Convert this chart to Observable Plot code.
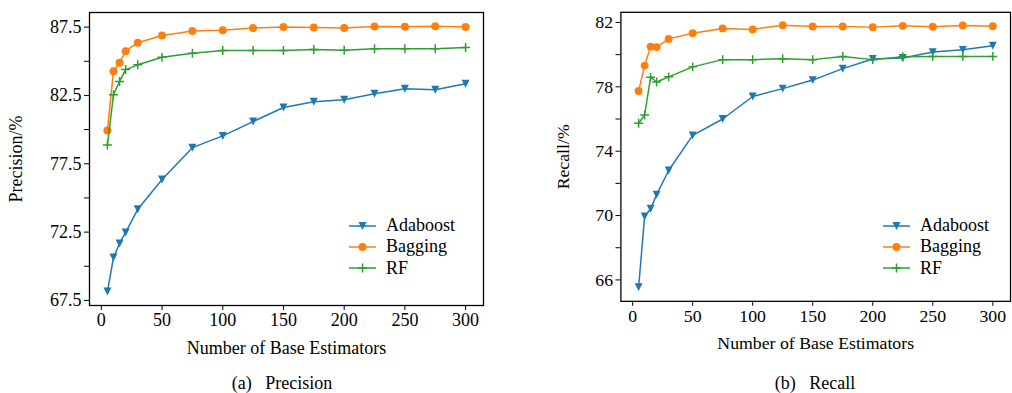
<!DOCTYPE html>
<html><head><meta charset="utf-8">
<script src="https://cdn.jsdelivr.net/npm/d3@7"></script>
<script src="https://cdn.jsdelivr.net/npm/@observablehq/plot@0.6"></script>
<style>
html,body{margin:0;padding:0;background:#fff;}
body{width:1012px;height:393px;overflow:hidden;font-family:"Liberation Serif","Times New Roman",serif;}
#wrap{position:relative;width:1012px;height:393px;overflow:hidden;}
.panel{position:absolute;top:0;}
.panel svg, .panel svg g, .panel svg text{font-family:"Liberation Serif","Times New Roman",serif !important;font-size:18px !important;font-variant:normal !important;}
.caption{position:absolute;font-size:18px;white-space:pre;line-height:20px;transform:translate(-50%,-50%);color:#000;}
.legend{position:absolute;font-size:18px;color:#000;}
.legend .row{display:flex;align-items:center;height:21.3px;}
</style>
</head><body>
<div id="wrap"></div>
<script>
// ---------- data ----------
const estimators = [5,10,15,20,30,50,75,100,125,150,175,200,225,250,275,300];
const seriesNames = ["Adaboost","Bagging","RF"];
const seriesColors = ["#1f77b4","#ff7f0e","#2ca02c"];

const precisionAdaboost = [68.15,70.64,71.67,72.48,74.17,76.35,78.68,79.54,80.59,81.62,82.04,82.19,82.62,82.99,82.92,83.36];
const precisionBagging  = [79.94,84.28,84.89,85.74,86.36,86.89,87.21,87.28,87.43,87.50,87.47,87.43,87.55,87.52,87.57,87.50];
const precisionRF       = [78.87,82.55,83.53,84.39,84.74,85.29,85.59,85.79,85.79,85.79,85.86,85.80,85.91,85.91,85.91,86.00];

const recallAdaboost = [65.55,69.94,70.42,71.30,72.80,74.98,76.00,77.40,77.89,78.42,79.13,79.73,79.79,80.16,80.30,80.55];
const recallBagging  = [77.74,79.32,80.50,80.47,80.98,81.33,81.63,81.57,81.83,81.75,81.75,81.71,81.79,81.73,81.81,81.77];
const recallRF       = [75.74,76.25,78.60,78.30,78.62,79.24,79.69,79.69,79.75,79.69,79.89,79.69,79.87,79.89,79.89,79.89];

const xTicks = [0,50,100,150,200,250,300];
const precisionTicks = [67.5,70,72.5,75,77.5,80,82.5,85,87.5];
const precisionTickLabels = ["67.5","","72.5","","77.5","","82.5","","87.5"];
const recallTicks = [66,68,70,72,74,76,78,80,82];
const recallTickLabels = ["66","","70","","74","","78","","82"];

// ---------- symbols ----------
const triangleDown = {draw(ctx, size){ const h = Math.sqrt(size/Math.PI); ctx.moveTo(0,h); ctx.lineTo(-h,-h); ctx.lineTo(h,-h); ctx.closePath(); }};
const plusSym = {draw(ctx, size){ const h = Math.sqrt(size/Math.PI); ctx.moveTo(-h,0); ctx.lineTo(h,0); ctx.moveTo(0,-h); ctx.lineTo(0,h); }};

const FONT = '"Liberation Serif","Times New Roman",serif';

function seriesMarks(vals){
  const marks = [];
  vals.forEach((v, i) => {
    const rows = estimators.map((n, j) => ({n, v: v[j]}));
    const c = seriesColors[i];
    marks.push(Plot.line(rows, {x:"n", y:"v", stroke:c, strokeWidth:1.5}));
    if (i === 0) marks.push(Plot.dot(rows, {x:"n", y:"v", symbol:triangleDown, r:4, fill:c, stroke:"none"}));
    if (i === 1) marks.push(Plot.dot(rows, {x:"n", y:"v", symbol:"circle", r:4, fill:c, stroke:"none"}));
    if (i === 2) marks.push(Plot.dot(rows, {x:"n", y:"v", symbol:plusSym, r:4.5, fill:"none", stroke:c, strokeWidth:1.5}));
  });
  return marks;
}

function panel({vals, yDomain, yTicks, yLabels, yLabel, width, marginLeft, marginRight, yLabelOffset}){
  return Plot.plot({
    width, height: 365,
    marginLeft, marginRight, marginTop: 12, marginBottom: 60,
    style: `font-family:${FONT};font-size:18px;color:#000;background:transparent;overflow:visible;`,
    x: {domain: [-9.75, 314.75]},
    y: {domain: yDomain},
    marks: [
      ...seriesMarks(vals),
      Plot.frame({stroke: "#000", strokeWidth: 1.3}),
      Plot.axisX({ticks: xTicks, tickSize: 5, tickPadding: 3, strokeWidth: 1, fontFamily: FONT, fontSize: 18, label: "Number of Base Estimators", labelAnchor: "center", labelArrow: "none", labelOffset: 48}),
      Plot.axisY({ticks: yTicks, tickSize: 5, tickPadding: 3, strokeWidth: 1, fontFamily: FONT, fontSize: 18, tickFormat: (d) => yLabels[yTicks.indexOf(d)], label: yLabel, labelAnchor: "center", labelArrow: "none", labelOffset: yLabelOffset})
    ]
  });
}

const wrap = document.getElementById("wrap");

const left = panel({vals:[precisionAdaboost, precisionBagging, precisionRF], yDomain:[67.13, 88.57], yTicks: precisionTicks, yLabels: precisionTickLabels, yLabel: "Precision/%", width: 506, marginLeft: 89, marginRight: 23, yLabelOffset: 80});
const lp = document.createElement("div"); lp.className = "panel"; lp.style.left = "0px"; lp.appendChild(left); wrap.appendChild(lp);

const right = panel({vals:[recallAdaboost, recallBagging, recallRF], yDomain:[64.67, 82.63], yTicks: recallTicks, yLabels: recallTickLabels, yLabel: "Recall/%", width: 513, marginLeft: 116, marginRight: 2, yLabelOffset: 65});
const rp = document.createElement("div"); rp.className = "panel"; rp.style.left = "506px"; rp.appendChild(right); wrap.appendChild(rp);

// captions
function caption(text, cx, cy){
  const d = document.createElement("div"); d.className = "caption"; d.textContent = text;
  d.style.left = cx + "px"; d.style.top = cy + "px"; wrap.appendChild(d);
}
caption("(a)   Precision", 282, 383);
caption("(b)   Recall", 815, 383);

// legends
function legend(x, y){
  const lg = document.createElement("div"); lg.className = "legend";
  lg.style.left = x + "px"; lg.style.top = y + "px";
  seriesNames.forEach((name, i) => {
    const row = document.createElement("div"); row.className = "row";
    const c = seriesColors[i];
    let marker = "";
    if (i === 0) marker = `<path d="M13.5,18 L9.5,10 L17.5,10 Z" fill="${c}"/>`;
    if (i === 1) marker = `<circle cx="13.5" cy="14" r="4" fill="${c}"/>`;
    if (i === 2) marker = `<path d="M9,14 H18 M13.5,9.5 V18.5" stroke="${c}" stroke-width="1.5"/>`;
    row.innerHTML = `<svg width="27" height="28" viewBox="0 0 27 28"><line x1="0" x2="27" y1="14" y2="14" stroke="${c}" stroke-width="1.5"/>${marker}</svg><span>${name}</span>`;
    row.querySelector("svg").style.margin = "-4px 10px -4px 0";
    lg.appendChild(row);
  });
  wrap.appendChild(lg);
}
legend(349, 215);
legend(883, 215);
</script>
</body></html>
